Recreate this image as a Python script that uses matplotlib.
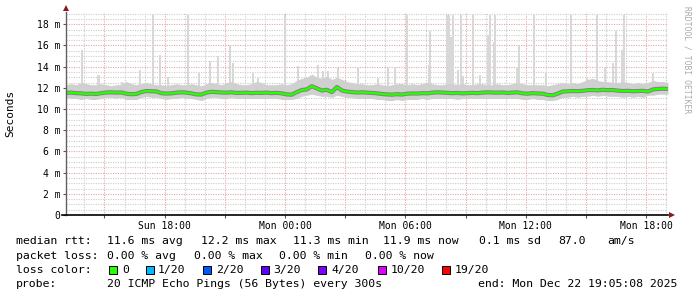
import matplotlib
matplotlib.use('Agg')
import matplotlib.pyplot as plt
from matplotlib.patches import Rectangle
import numpy as np

# ---- data: hours since Sun 00:00, one sample every 15 minutes ----
t_start = 13.083
t_step = 0.25

median_ms = [
    11.53, 11.55, 11.50, 11.48, 11.43, 11.45, 11.42, 11.50, 11.56, 11.58,
    11.55, 11.57, 11.45, 11.40, 11.42, 11.60, 11.70, 11.68, 11.66, 11.50,
    11.46, 11.48, 11.55, 11.58, 11.55, 11.48, 11.38, 11.37, 11.55, 11.63,
    11.60, 11.56, 11.55, 11.58, 11.52, 11.53, 11.55, 11.50, 11.54, 11.52,
    11.55, 11.50, 11.53, 11.48, 11.38, 11.36, 11.60, 11.80, 11.85, 12.16,
    11.95, 11.75, 11.82, 11.60, 12.08, 11.75, 11.65, 11.60, 11.56, 11.58,
    11.55, 11.52, 11.48, 11.42, 11.38, 11.36, 11.40, 11.37, 11.45, 11.47,
    11.46, 11.50, 11.48, 11.55, 11.58, 11.56, 11.53, 11.50, 11.52, 11.48,
    11.50, 11.53, 11.50, 11.55, 11.58, 11.56, 11.55, 11.57, 11.52, 11.55,
    11.58, 11.48, 11.45, 11.50, 11.47, 11.45, 11.33, 11.30, 11.45, 11.65,
    11.68, 11.70, 11.68, 11.72, 11.78, 11.80, 11.76, 11.82, 11.78, 11.80,
    11.74, 11.70, 11.72, 11.68, 11.70, 11.72, 11.65, 11.85, 11.90, 11.92,
    11.90,
]

smoke_hi = [
    12.3, 12.4, 12.3, 12.5, 12.4, 12.3, 12.3, 12.4, 12.3, 12.2, 12.3, 12.3, 12.6, 12.4, 12.3,
    12.4, 12.5, 12.4, 12.3, 12.3, 12.2, 12.3, 12.4, 12.3, 12.3, 12.4, 12.3, 12.2, 12.4, 12.5,
    12.4, 12.3, 12.5, 12.6, 12.4, 12.3, 12.3, 12.4, 12.6, 12.5, 12.3, 12.3, 12.3, 12.4, 12.3,
    12.4, 12.7, 12.9, 13.0, 13.3, 13.0, 12.9, 13.1, 12.8, 13.0, 12.8, 12.6, 12.5, 12.4, 12.4,
    12.3, 12.3, 12.4, 12.3, 12.2, 12.3, 12.4, 12.4, 12.3, 12.4, 12.3, 12.4, 12.5, 12.4, 12.3,
    12.3, 12.4, 12.4, 12.3, 12.4, 12.3, 12.3, 12.4, 12.4, 12.3, 12.3, 12.4, 12.3, 12.3, 12.4,
    12.5, 12.4, 12.3, 12.3, 12.3, 12.3, 12.2, 12.3, 12.4, 12.5, 12.4, 12.5, 12.4, 12.6, 12.8,
    12.9, 12.7, 12.6, 12.6, 12.5, 12.5, 12.6, 12.5, 12.4, 12.5, 12.4, 12.5, 12.7, 12.6, 12.6, 12.5,
]

smoke_lo = [
    11.1, 11.0, 11.0, 10.9, 11.0, 10.9, 10.9, 11.0, 11.1, 11.1, 11.0, 11.1, 10.9, 10.9, 10.9,
    11.1, 11.2, 11.1, 11.1, 11.0, 10.9, 11.0, 11.0, 11.1, 11.0, 11.0, 10.9, 10.8, 11.0, 11.1,
    11.1, 11.0, 11.0, 11.1, 11.0, 11.0, 11.0, 11.0, 11.0, 11.0, 11.0, 11.0, 11.0, 10.9, 10.9,
    10.9, 11.0, 11.2, 11.3, 11.4, 11.3, 11.2, 11.2, 11.1, 11.3, 11.2, 11.1, 11.1, 11.0, 11.0,
    11.0, 11.0, 10.9, 10.9, 10.8, 10.8, 10.9, 10.8, 10.9, 10.9, 10.9, 11.0, 10.9, 11.0, 11.0,
    11.0, 11.0, 11.0, 10.9, 11.0, 11.0, 11.0, 11.0, 11.0, 11.0, 11.0, 11.0, 11.0, 11.0, 11.0,
    11.0, 10.9, 10.9, 11.0, 10.9, 10.9, 10.8, 10.8, 10.9, 11.1, 11.1, 11.2, 11.1, 11.2, 11.2,
    11.3, 11.2, 11.3, 11.2, 11.2, 11.2, 11.1, 11.2, 11.1, 11.2, 11.1, 11.3, 11.3, 11.4, 11.4, 11.4,
]

# max ping spikes (hour, ms)
spike_t = [13.87, 14.70, 15.87, 16.77, 17.42, 17.77, 18.17, 19.16, 19.71, 20.26,
           20.66, 21.25, 21.40, 22.40, 22.65, 23.99, 24.64, 24.99, 25.64, 25.89,
           26.14, 26.64, 27.63, 28.63, 29.13, 29.48, 30.07, 31.17, 31.22, 32.07,
           32.17, 32.27, 32.37, 32.62, 32.76, 32.86, 33.36, 33.71, 34.11, 34.21,
           34.41, 34.46, 35.55, 35.65, 36.40, 37.00, 38.24, 39.04, 39.54, 39.94,
           40.34, 40.49, 40.79, 40.89, 42.33]
spike_ms = [15.6, 13.2, 12.6, 13.7, 18.85, 15.1, 13.0, 18.85, 13.4, 14.5,
            15.0, 16.0, 14.3, 13.4, 12.9, 18.85, 14.1, 12.9, 14.2, 13.6,
            13.6, 13.9, 14.0, 12.9, 13.9, 14.0, 18.85, 14.2, 17.4, 18.85,
            18.85, 16.8, 18.85, 13.7, 18.85, 13.1, 18.85, 13.2, 17.0, 18.85,
            16.3, 18.85, 14.0, 16.0, 18.85, 13.4, 18.85, 12.9, 18.85, 14.0,
            14.3, 17.4, 15.6, 18.9, 13.4]

y_ticks = [0, 2, 4, 6, 8, 10, 12, 14, 16, 18]
y_labels = ['0', '2 m', '4 m', '6 m', '8 m', '10 m', '12 m', '14 m', '16 m', '18 m']
x_label_pos = [18, 24, 30, 36, 42]
x_labels = ['Sun 18:00', 'Mon 00:00', 'Mon 06:00', 'Mon 12:00', 'Mon 18:00']

loss_colors = ['#26ff00', '#00b8ff', '#0059ff', '#5e00ff', '#7e00ff', '#dd00ff', '#ff0000']
loss_labels = ['0', '1/20', '2/20', '3/20', '4/20', '10/20', '19/20']

# ---- figure ----
W, H = 697, 297
fig = plt.figure(figsize=(W / 100, H / 100), dpi=100)
fig.patch.set_facecolor('white')
ax = fig.add_axes([66 / W, (H - 215) / H, 602 / W, 203 / H])
mono = 'DejaVu Sans Mono'

t = t_start + t_step * np.arange(len(median_ms))
x0, x1 = t_start, t_start + 30.0
ytop = 19.16
ax.set_xlim(x0, x1)
ax.set_ylim(0, ytop)

# grid
dot = (0, (1, 1.2))
ax.set_yticks(y_ticks)
ax.set_yticklabels(y_labels, fontfamily=mono, fontsize=7)
ax.set_yticks(np.arange(0, 19.1, 0.5), minor=True)
major_x = np.arange(15, 43, 3)
ax.set_xticks(major_x)
ax.set_xticklabels([x_labels[x_label_pos.index(v)] if v in x_label_pos else '' for v in major_x],
                   fontfamily=mono, fontsize=7)
ax.set_xticks(np.arange(14, 44, 1), minor=True)
ax.grid(True, which='minor', color='#cccccc', linestyle=dot, linewidth=0.8)
ax.grid(True, which='major', color='#e8a4a4', linestyle=dot, linewidth=0.8)
ax.set_axisbelow(True)
ax.tick_params(which='major', length=2, width=0.8, color='#555555', pad=2)
ax.tick_params(which='minor', length=0)
for s in ax.spines.values():
    s.set_visible(False)

# smoke
ax.bar(spike_t, np.array(spike_ms) - 11.5, bottom=11.5, width=0.12,
       color='#d8d8d8', linewidth=0, zorder=2)
ax.fill_between(t, smoke_lo, smoke_hi, color='#d0d0d0', linewidth=0, zorder=3)
ax.plot(t, median_ms, color='#404040', lw=3.0, alpha=0.55, zorder=4)
ax.plot(t, median_ms, color='#26ff00', lw=1.7, zorder=5)

# axis lines with arrows
ax.plot([0, 0], [0, 1.0], transform=ax.transAxes, clip_on=False, color='#606060', lw=1, zorder=6)
ax.plot(0, 1.018, marker='^', ms=4.5, color='#8b1a1a', transform=ax.transAxes,
        clip_on=False, zorder=7, markeredgewidth=0)
ax.plot([-0.007, 1.0], [0, 0], transform=ax.transAxes, clip_on=False, color='black', lw=1.2, zorder=6)
ax.plot(1.007, 0, marker='>', ms=4.5, color='#8b1a1a', transform=ax.transAxes,
        clip_on=False, zorder=7, markeredgewidth=0)

fig.text(10 / W, (H - 113) / H, 'Seconds', rotation=90, ha='center', va='center',
         fontfamily=mono, fontsize=8)
fig.text(687 / W, (H - 60) / H, 'RRDTOOL / TOBI OETIKER', rotation=270, ha='center',
         va='center', fontfamily=mono, fontsize=5.8, color='#aaaaaa')

# legend rows
fs = 8.25
def row(x, y, s):
    fig.text(x / W, (H - y) / H, s, ha='left', va='center', fontfamily=mono, fontsize=fs)

rtt_parts = ['median rtt:', '11.6 ms avg', '12.2 ms max', '11.3 ms min',
             '11.9 ms now', '0.1 ms sd', '87.0', 'am/s']
for s, x in zip(rtt_parts, [16, 107, 201, 293, 383, 479, 558, 607]):
    row(x, 241, s)
loss_parts = ['packet loss:', '0.00 % avg', '0.00 % max', '0.00 % min', '0.00 % now']
for s, x in zip(loss_parts, [16, 107, 194, 279, 365]):
    row(x, 256, s)
row(16, 270, 'loss color:')
sq_x = [109, 146, 203, 261, 318, 378, 442]
lbl_x = [122, 158, 216, 273, 331, 391, 455]
for c, lab, sx, lx in zip(loss_colors, loss_labels, sq_x, lbl_x):
    fig.patches.append(Rectangle((sx / W, (H - 273.5) / H), 7.5 / W, 7.5 / H,
                                 transform=fig.transFigure, facecolor=c,
                                 edgecolor='black', linewidth=0.7))
    row(lx, 270, lab)
row(16, 284, 'probe:')
row(107, 284, '20 ICMP Echo Pings (56 Bytes) every 300s')
row(478, 284, 'end: Mon Dec 22 19:05:08 2025')

fig.savefig('out.png', dpi=100, facecolor='white')
